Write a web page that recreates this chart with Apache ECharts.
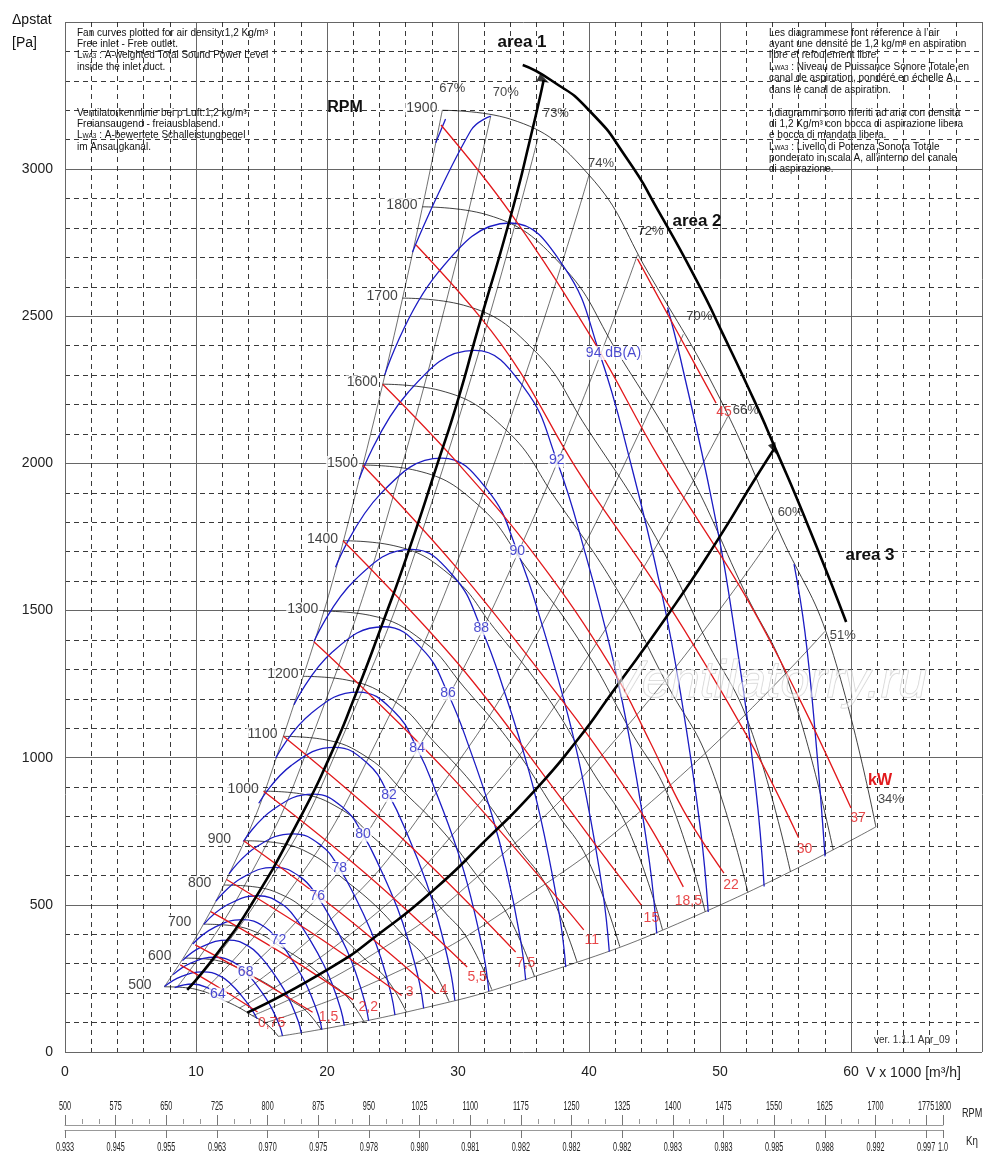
<!DOCTYPE html>
<html><head><meta charset="utf-8">
<script src="https://cdn.jsdelivr.net/npm/echarts@6/dist/echarts.min.js"></script>
<style>html,body{margin:0;padding:0;background:#fff}#c{width:1000px;height:1160px}</style>
</head><body><div id="c"></div>
<script>
// ---------- RPM curves (V x1000 m3/h, Pa) ----------
const rpmValues = [500,600,700,800,900,1000,1100,1200,1300,1400,1500,1600,1700,1800,1900];
const rpm500 = [[7.58,221.6],[8.95,219.5],[10.53,206.4],[11.71,183.5],[13.16,153.7],[14.39,121.2],[15.34,97.0],[16.29,53.0]];
const rpm600 = [[9.09,319.1],[10.74,316.1],[12.63,297.2],[14.05,264.3],[15.79,221.4],[17.27,174.5],[18.41,139.6],[19.55,76.3]];
const rpm700 = [[10.61,434.3],[12.53,430.3],[14.74,404.5],[16.39,359.7],[18.42,301.3],[20.15,237.5],[21.48,190.0],[22.81,103.8]];
const rpm800 = [[12.13,567.3],[14.32,562.0],[16.84,528.3],[18.74,469.8],[21.05,393.6],[23.03,310.2],[24.55,248.2],[26.06,135.6]];
const rpm900 = [[13.64,718.0],[16.11,711.3],[18.95,668.6],[21.08,594.6],[23.68,498.1],[25.91,392.7],[27.62,314.1],[29.32,171.6]];
const rpm1000 = [[15.16,886.4],[17.89,878.1],[21.05,825.5],[23.42,734.1],[26.32,615.0],[28.79,484.8],[30.68,387.8],[32.58,211.9]];
const rpm1100 = [[16.67,1072.6],[19.68,1062.5],[23.16,998.8],[25.76,888.2],[28.95,744.1],[31.67,586.6],[33.75,469.3],[35.84,256.4]];
const rpm1200 = [[18.19,1276.5],[21.47,1264.5],[25.26,1188.7],[28.11,1057.1],[31.58,885.5],[34.55,698.1],[36.82,558.4],[39.09,305.2]];
const rpm1300 = [[19.71,1498.1],[23.26,1484.0],[27.37,1395.1],[30.45,1240.6],[34.21,1039.3],[37.43,819.3],[39.89,655.4],[42.35,358.1]];
const rpm1400 = [[21.22,1737.4],[25.05,1721.1],[29.47,1617.9],[32.79,1438.8],[36.84,1205.3],[40.31,950.1],[42.96,760.1],[45.61,415.3]];
const rpm1500 = [[22.74,1994.5],[26.84,1975.8],[31.58,1857.3],[35.13,1651.7],[39.47,1383.7],[43.18,1090.7],[46.03,872.6],[48.87,476.8]];
const rpm1600 = [[24.25,2269.3],[28.63,2248.0],[33.68,2113.2],[37.47,1879.2],[42.11,1574.3],[46.06,1241.0],[49.09,992.8],[52.13,542.5]];
const rpm1700 = [[25.77,2561.8],[30.42,2537.8],[35.79,2385.7],[39.82,2121.5],[44.74,1777.2],[48.94,1401.0],[52.16,1120.8],[55.38,612.4]];
const rpm1800 = [[27.28,2872.0],[32.21,2845.1],[37.89,2674.6],[42.16,2378.4],[47.37,1992.5],[51.82,1570.6],[55.23,1256.5],[58.64,686.6]];
const rpm1900 = [[28.8,3200],[34,3170],[40,2980],[44.5,2650],[50,2220],[54.7,1750],[58.3,1400],[61.9,765]];
const rpmCurves = [rpm500,rpm600,rpm700,rpm800,rpm900,rpm1000,rpm1100,rpm1200,rpm1300,rpm1400,rpm1500,rpm1600,rpm1700,rpm1800,rpm1900];

// ---------- efficiency lines ----------
const effNames = ['67%','70%','73%','74%','72%','70%','66%','60%','51%','34%'];
const eff67 = [[7.58,221.6],[12.13,567.3],[16.67,1072.6],[22.74,1994.5],[28.8,3200]];
const eff70a = [[8.55,220.2],[13.68,563.8],[18.82,1065.9],[25.66,1982.0],[32.5,3180]];
const eff73 = [[9.50,215.0],[15.20,550.5],[20.90,1040.7],[28.50,1935.2],[36.1,3105]];
const eff74 = [[10.53,206.4],[16.84,528.3],[23.16,998.8],[31.58,1857.3],[40.0,2980]];
const eff72 = [[11.50,187.6],[18.40,480.3],[25.30,908.0],[34.50,1688.4],[43.7,2709]];
const eff70b = [[12.42,168.9],[19.87,432.4],[27.33,817.5],[37.26,1520.2],[47.2,2439]];
const eff66 = [[13.32,149.6],[21.31,382.9],[29.30,724.0],[39.95,1346.3],[50.6,2160]];
const eff60 = [[14.32,123.3],[22.91,315.6],[31.50,596.6],[42.95,1109.4],[54.4,1780]];
const eff51 = [[15.26,99.0],[24.42,253.3],[33.58,479.0],[45.79,890.6],[58.0,1429]];
const eff34 = [[16.29,53.0],[26.06,135.6],[35.84,256.4],[48.87,476.8],[61.9,765]];
const effLines = [eff67,eff70a,eff73,eff74,eff72,eff70b,eff66,eff60,eff51,eff34];

// ---------- sound power arcs, dB(A) ----------
const dB64 = [[8.37,219],[9.73,231],[10.90,218],[11.67,195],[12.11,175]];
const dB66 = [[7.59,222.4],[8.86,256.3],[10.57,272.4],[11.85,257.9],[12.69,229.7],[13.44,193.2],[14.15,151.8],[14.66,114]];
const dB68 = [[8.25,262.9],[9.64,302.9],[11.50,322.0],[12.88,304.8],[13.79,271.5],[14.61,228.4],[15.38,179.5],[15.89,139.0],[16.40,87.0],[16.60,54.4]];
const dB70 = [[8.97,310.5],[10.47,357.8],[12.50,380.3],[14.00,360.0],[14.99,320.6],[15.88,269.7],[16.72,212.0],[17.27,164.2],[17.82,102.7],[18.04,64.3]];
const dB72 = [[9.75,367.1],[11.38,422.9],[13.58,449.6],[15.22,425.7],[16.30,379.1],[17.25,318.9],[18.17,250.6],[18.77,194.1],[19.37,121.5],[19.61,76.0]];
const dB74 = [[10.59,433.6],[12.37,499.5],[14.76,531.0],[16.54,502.7],[17.72,447.7],[18.76,376.6],[19.76,295.9],[20.41,229.2],[21.06,143.4],[21.32,89.7]];
const dB76 = [[11.52,512.4],[13.45,590.4],[16.05,627.6],[17.98,594.2],[19.26,529.2],[20.39,445.2],[21.48,349.8],[22.18,270.9],[22.89,169.6],[23.18,106.1]];
const dB78 = [[12.52,605.4],[14.62,697.5],[17.44,741.4],[19.55,702.0],[20.93,625.1],[22.16,525.9],[23.34,413.2],[24.11,320.1],[24.88,200.3],[25.19,125.3]];
const dB80 = [[13.61,715.3],[15.89,824.2],[18.96,876.1],[21.25,829.4],[22.75,738.6],[24.09,621.4],[25.38,488.3],[26.21,378.2],[27.05,236.7],[27.38,148.0]];
const dB82 = [[14.79,845.3],[17.28,973.9],[20.61,1035.2],[23.10,980.1],[24.73,872.8],[26.19,734.3],[27.58,577.0],[28.49,446.9],[29.40,279.7],[29.76,174.9]];
const dB84 = [[16.08,998.7],[18.78,1150.6],[22.40,1223.1],[25.10,1158.0],[26.88,1031.2],[28.46,867.5],[29.98,681.7],[30.97,528.0],[31.96,330.4],[32.35,206.7]];
const dB86 = [[17.48,1179.9],[20.41,1359.5],[24.35,1445.1],[27.29,1368.2],[29.23,1218.4],[30.94,1025.0],[32.59,805.4],[33.67,623.8],[34.74,390.4],[35.17,244.2]];
const dB88 = [[19.00,1394.3],[22.19,1606.4],[26.47,1707.7],[29.66,1616.7],[31.77,1439.7],[33.64,1211.2],[35.43,951.7],[36.59,737.1],[37.76,461.3],[38.23,288.5]];
const dB90 = [[20.65,1647.5],[24.12,1898.2],[28.77,2017.8],[32.24,1910.4],[34.53,1701.2],[36.56,1431.2],[38.51,1124.6],[39.78,871.0],[41.05,545.1],[41.55,341.0]];
const dB92 = [[22.45,1946.5],[26.22,2242.7],[31.28,2384.0],[35.05,2257.1],[37.54,2010.0],[39.74,1690.9],[41.86,1328.7],[43.24,1029.1],[44.62,644.0],[45.17,402.8]];
const dB94 = [[24.4,2300],[28.5,2650],[34.0,2817],[38.1,2667],[40.8,2375],[43.2,1998],[45.5,1570],[47.0,1216],[48.5,761],[49.1,476]];
const dB96rise = [[26.52,2717.7],[30.98,3131.2],[32.5,3180]];
const dB96fall = [[46.0,2530],[46.96,2360.8],[49.46,1855.1],[51.09,1436.8],[52.72,899.2],[53.37,562.4]];
const dB98rise = [[28.3,3090],[29.05,3170]];
const dB98fall = [[55.65,1658],[56.48,1428.3],[57.31,1062.5],[58.02,664.6]];
const soundParts = [dB64,dB66,dB68,dB70,dB72,dB74,dB76,dB78,dB80,dB82,dB84,dB86,dB88,dB90,dB92,dB94,dB96rise,dB96fall,dB98rise,dB98fall];
const dbLabelTexts = ['64','68','72','76','78','80','82','84','86','88','90','92','94 dB(A)'];
const dbLabelArcs = [dB64,dB68,dB72,dB76,dB78,dB80,dB82,dB84,dB86,dB88,dB90,dB92,dB94];
const dbLabelIndex = [3,4,4,4,4,4,4,4,4,4,4,4,4];

// ---------- absorbed power lines, kW ----------
const kwNames = ['0,75','1,5','2,2','3','4','5,5','7,5','11','15','18,5','22','30','37','45'];
const kw0_75 = [[8.8,296],[11.75,219],[14.7,136]];
const kw1_5 = [[9.94,364],[14.4,255],[18.9,135]];
const kw2_2 = [[11.12,477],[16.6,335],[22.0,177]];
const kw3 = [[12.33,586],[19.0,400],[25.7,192]];
const kw4 = [[13.64,718],[21.0,474],[28.3,200]];
const kw5_5 = [[15.16,886],[22.9,608],[30.7,289]];
const kw7_5 = [[16.67,1073],[25.5,736],[34.4,340]];
const kw11 = [[19.0,1394],[29.3,945],[39.6,415]];
const kw15 = [[21.22,1737],[30.0,1320],[37.8,866],[40.4,710],[44.0,499]];
const kw18_5 = [[22.74,1994],[30.0,1640],[37.8,1203],[40.4,1047],[44.2,799],[47.2,561]];
const kw22 = [[24.25,2269],[30.0,2000],[36.0,1680],[41.7,1308],[44.7,1050],[47.2,822],[50.3,608]];
const kw30 = [[26.8,2742],[31.7,2497],[34.8,2307],[39.1,1978],[45.5,1560],[52.2,1063],[56.0,728]];
const kw37 = [[28.7,3150],[34.0,2851],[40.4,2412],[45.3,2022],[51.8,1560],[56.0,1206],[60.0,829]];
const kw45 = [[43.7,2695],[46.7,2450],[49.7,2205]];
const kwLines = [kw0_75,kw1_5,kw2_2,kw3,kw4,kw5_5,kw7_5,kw11,kw15,kw18_5,kw22,kw30,kw37,kw45];

// ---------- working area limits (thick) ----------
const area1Line = [[9.33,211],[11.70,340],[14.14,495],[17.97,798],[20.26,1008],[22.02,1196],[24.31,1465],[26.15,1692],[28.44,2000],[29.97,2212],[31.50,2453],[34.02,2840],[35.55,3110],[36.54,3303]];
const area23Line = [[13.91,134],[20.26,286],[24.08,405],[28.13,550],[31.96,713],[35.78,885],[39.14,1062],[41.67,1216],[46.25,1500],[49.85,1742],[52.60,1942],[54.13,2049]];
const outerLine = [[34.94,3354],[37.08,3303],[39.98,3201],[42.97,3031],[45.26,2861],[48.32,2613],[50.08,2453],[52.60,2215],[54.05,2069],[56.7,1791],[59.63,1461]];
const junctions = [[36.54,3303],[54.13,2049]];

// ---------- secondary scales ----------
const rpmTicks = [500,575,650,725,800,875,950,1025,1100,1175,1250,1325,1400,1475,1550,1625,1700,1775,1800];
const rpmMinorTicks = [525,550,600,625,675,700,750,775,825,850,900,925,975,1000,1050,1075,1125,1150,1200,1225,1275,1300,1350,1375,1425,1450,1500,1525,1575,1600,1650,1675,1725,1750];
const kEtaLabels = ['0.933','0.945','0.955','0.963','0.970','0.975','0.978','0.980','0.981','0.982','0.982','0.982','0.983','0.983','0.985','0.988','0.992','0.997','1.0'];

// ---------- styling ----------
const FONT = '"Liberation Sans", Arial, sans-serif';
const BLUE = '#1c1cc4', RED = '#e2191c', BLK = '#111';
const effLabelOffsets = [[10,-22],[15,-24],[18,-25],[12,-12],[13,-23],[16,-18],[18,-6],[13,-16],[18,4],[15,-27]];
const kwLabelOffsets = [[14,11],[16,5],[15,7],[8,-3],[8,-3],[10,10],[10,11],[8,10],[10,13],[5,14],[7,12],[6,11],[7,10],[8,9]];

const S = [];
function addLine(data, color, width, z, sm){
  S.push({type:'line', xAxisIndex:0, yAxisIndex:0, data:data, symbol:'none', smooth:sm, smoothConstraint:true,
    silent:true, animation:false, z:z, lineStyle:{color:color, width:width}});
}
effLines.forEach(l => addLine(l, BLK, 0.6, 2, 0.5));
rpmCurves.forEach(c => addLine(c, BLK, 0.8, 3, 0.45));
soundParts.forEach(p => addLine(p, BLUE, 1.3, 4, 0.45));
kwLines.forEach(l => addLine(l, RED, 1.3, 5, 0.4));
[area1Line, area23Line, outerLine].forEach(l => addLine(l, '#000', 2.6, 6, 0.6));

function labelSeries(items, lbl, z){
  return {type:'scatter', xAxisIndex:0, yAxisIndex:0, symbolSize:1, itemStyle:{color:'rgba(0,0,0,0)'},
    silent:true, animation:false, z:z, clip:false, data:items,
    label:Object.assign({show:true, position:'inside', fontFamily:FONT}, lbl)};
}
S.push(labelSeries(effLines.map((l,i)=>({value:l[l.length-1], label:{formatter:effNames[i], offset:effLabelOffsets[i]}})),
  {fontSize:13, color:BLK}, 20));
S.push(labelSeries(rpmCurves.map((c,i)=>({value:c[0], label:{formatter:String(rpmValues[i])}})),
  {fontSize:14, color:BLK, align:'left', offset:[-37,-2], backgroundColor:'#fff', padding:[0,1]}, 20));
S.push(labelSeries(kwLines.map((l,i)=>({value:l[l.length-1], label:{formatter:kwNames[i], offset:kwLabelOffsets[i]}})),
  {fontSize:14, color:RED}, 20));
S.push(labelSeries(dbLabelArcs.map((a,i)=>({value:a[dbLabelIndex[i]], label:{formatter:dbLabelTexts[i], offset: i===12?[14,0]:[0,0]}})),
  {fontSize:14, color:BLUE, backgroundColor:'#fff', padding:[0,1], lineHeight:14}, 21));
S.push({type:'scatter', xAxisIndex:0, yAxisIndex:0, silent:true, animation:false, z:22, symbol:'triangle', symbolSize:[8,12],
  itemStyle:{color:'#000'}, data:[{value:junctions[0], symbolRotate:-118},{value:junctions[1], symbolRotate:-156}]});
S.push({type:'scatter', xAxisIndex:2, yAxisIndex:2, data:[], silent:true});
S.push({type:'scatter', xAxisIndex:4, yAxisIndex:3, data:[], silent:true});

// ---------- text annotations ----------
const graphic = [];
function txt(x, y, text, st){
  graphic.push({type:'text', id:'g'+graphic.length, x:x, y:y, silent:true, z:100,
    style:Object.assign({text:text, fill:'#111', fontSize:14, fontFamily:FONT, verticalAlign:'middle', align:'left',
      rich:{s:{fontSize:6.5, fontFamily:FONT, verticalAlign:'bottom', padding:[3,0,0,0]}}}, st||{})});
}
txt(12, 20, 'Δpstat');
txt(12, 43, '[Pa]');
const notesLeft = [[33,'Fan curves plotted for air density:1,2 Kg/m³'],[44,'Free inlet - Free outlet.'],[55,'L{s|WA3} : A-weighted Total Sound Power Level'],[67,'inside the inlet duct.'],
  [113,'Ventilatorkennlinie bei ρ Luft:1,2 kg/m³'],[124,'Freiansaugend - freiausblasend.'],[135,'L{s|WA3} : A-bewertete Schalleistungpegel'],[147,'im Ansaugkanal.']];
const notesRight = [[33,'Les diagrammese font réference à l\u2019air'],[44,'ayant une densité de 1,2 kg/m³ en aspiration'],[55,'libre et refoulement libre.'],[67,'L{s|WA3} : Niveau de Puissance Sonore Totale en'],[78,'canal de aspiration, pondéré en échelle A,'],[90,'dans le canal de aspiration.'],
  [113,'I diagrammi sono riferiti ad aria con densità'],[124,'di 1,2 Kg/m³ con bocca di aspirazione libera'],[135,'e bocca di mandata libera.'],[147,'L{s|WA3} : Livello di Potenza Sonora Totale'],[158,'ponderato in scala A, all\u2019interno del canale'],[169,'di aspirazione.']];
notesLeft.forEach(n => txt(77, n[0], n[1], {fontSize:10}));
notesRight.forEach(n => txt(769, n[0], n[1], {fontSize:10}));
txt(345, 108, 'RPM', {fontSize:16, fontWeight:'bold', align:'center'});
txt(522, 42, 'area 1', {fontSize:17, fontWeight:'bold', align:'center'});
txt(697, 221, 'area 2', {fontSize:17, fontWeight:'bold', align:'center'});
txt(870, 555, 'area 3', {fontSize:17, fontWeight:'bold', align:'center'});
txt(880, 781, 'kW', {fontSize:16, fontWeight:'bold', align:'center', fill:RED});
txt(912, 1040, 'ver. 1.1.1 Apr_09', {fontSize:10, align:'center', fill:'#333'});
txt(866, 1073, 'V x 1000 [m³/h]', {fontSize:14, fill:'#222'});
graphic.push({type:'text', id:'rpmUnit', x:962, y:1113, scaleX:0.7, silent:true, style:{text:'RPM', fontSize:13, fontFamily:FONT, fill:'#222', verticalAlign:'middle'}});
graphic.push({type:'text', id:'ketaUnit', x:966, y:1141, scaleX:0.75, silent:true, style:{text:'Kη', fontSize:13, fontFamily:FONT, fill:'#222', verticalAlign:'middle'}});
graphic.push({type:'text', id:'wm', x:768, y:683, silent:true, z:90,
  style:{text:'Ventilatorry.ru', fontSize:52, fontStyle:'italic', fontFamily:FONT, align:'center', verticalAlign:'middle',
    fill:'rgba(255,255,255,0.55)', stroke:'rgba(150,150,150,0.45)', lineWidth:1}});

const dashed = {show:true, lineStyle:{color:'#222', width:0.9, type:[5,4]}};
const solid = {show:true, lineStyle:{color:'#666', width:1, type:'solid'}};
const option = {
  animation:false,
  backgroundColor:'#fff',
  grid:[
    {left:65, right:18, top:22, bottom:108, show:false, outerBoundsMode:'none'},
    {left:65, right:57, top:1124, height:1, show:false, outerBoundsMode:'none'},
    {left:65, right:57, top:1129, height:1, show:false, outerBoundsMode:'none'}
  ],
  xAxis:[
    {gridIndex:0, type:'value', min:0, max:70, interval:2, position:'bottom', axisLine:{show:false}, axisTick:{show:false}, axisLabel:{show:false}, splitLine:dashed},
    {gridIndex:0, type:'value', min:0, max:70, interval:10, position:'bottom', axisLine:{show:false}, axisTick:{show:false},
      axisLabel:{show:true, fontSize:14, color:'#222', margin:13, fontFamily:FONT, formatter:v => v===70 ? '' : String(v)}, splitLine:solid},
    {gridIndex:1, type:'value', min:500, max:1800, position:'top', axisLine:{show:true, lineStyle:{color:'#999', width:1}},
      axisTick:{show:true, length:10, customValues:rpmTicks, lineStyle:{color:'#777'}}, axisLabel:{show:false}, splitLine:{show:false}},
    {gridIndex:1, type:'value', min:500, max:1800, position:'top', axisLine:{show:false},
      axisTick:{show:true, length:5, customValues:rpmMinorTicks, lineStyle:{color:'#999'}}, axisLabel:{show:false}, splitLine:{show:false}},
    {gridIndex:2, type:'value', min:500, max:1800, position:'bottom', axisLine:{show:true, lineStyle:{color:'#999', width:1}},
      axisTick:{show:true, length:8, customValues:rpmTicks, lineStyle:{color:'#777'}}, axisLabel:{show:false}, splitLine:{show:false}}
  ],
  yAxis:[
    {gridIndex:0, type:'value', min:0, max:3500, interval:100, position:'left', axisLine:{show:false}, axisTick:{show:false}, axisLabel:{show:false}, splitLine:dashed},
    {gridIndex:0, type:'value', min:0, max:3500, interval:500, position:'left', axisLine:{show:false}, axisTick:{show:false},
      axisLabel:{show:true, fontSize:14, color:'#222', margin:12, fontFamily:FONT, formatter:v => v===3500 ? '' : String(v)}, splitLine:solid},
    {gridIndex:1, type:'value', show:false, min:0, max:1},
    {gridIndex:2, type:'value', show:false, min:0, max:1}
  ],
  series:S,
  graphic:graphic
};
const chart = echarts.init(document.getElementById('c'), null, {renderer:'canvas'});
chart.setOption(option);

// condensed tick labels for the RPM and K-eta scales, placed through the scale axes
const scaleTexts = [];
rpmTicks.forEach((v, i) => {
  const px = chart.convertToPixel({xAxisIndex:2}, v);
  scaleTexts.push({type:'text', id:'rl'+i, x:px, y:1107, scaleX:0.58, silent:true,
    style:{text:String(v), fontSize:12.5, fontFamily:FONT, fill:'#222', align:'center', verticalAlign:'middle'}});
  scaleTexts.push({type:'text', id:'kl'+i, x:px, y:1148, scaleX:0.58, silent:true,
    style:{text:kEtaLabels[i], fontSize:12.5, fontFamily:FONT, fill:'#222', align:'center', verticalAlign:'middle'}});
});
chart.setOption({graphic: graphic.concat(scaleTexts)});
</script></body></html>
